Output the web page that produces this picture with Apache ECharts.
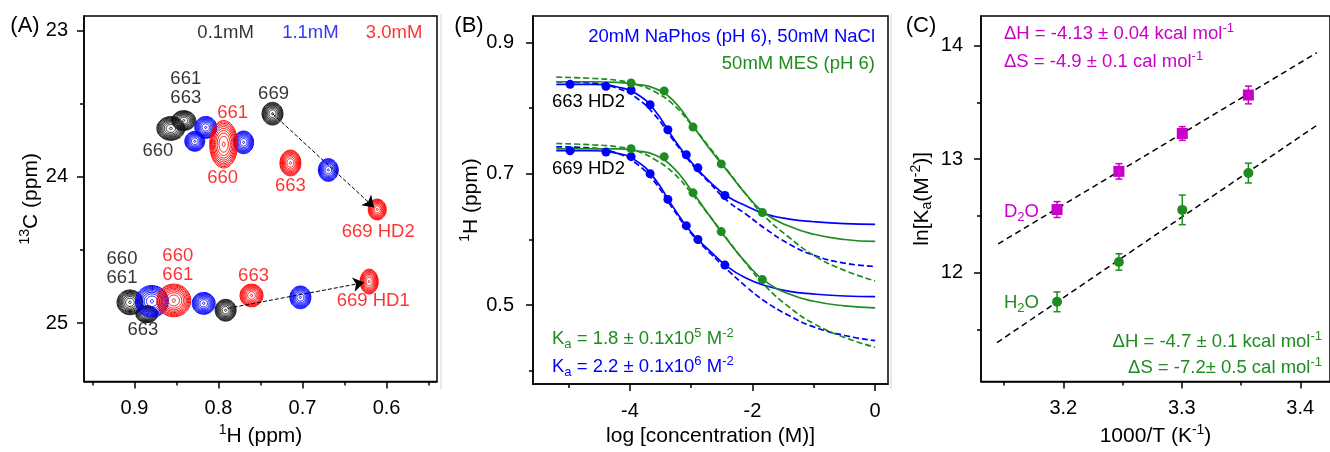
<!DOCTYPE html>
<html>
<head>
<meta charset="utf-8">
<script src="https://cdn.jsdelivr.net/npm/echarts@6/dist/echarts.min.js"></script>
<style>
html,body{margin:0;padding:0;background:#fff;}
#chart{width:1330px;height:452px;}
</style>
</head>
<body>
<div id="chart"></div>
<script>
// ---------------- Panel A: 1H-13C HSQC peaks [1H ppm, 13C ppm, 1H width ppm, 13C width ppm]
const peaks01mM = [
  [0.8567, 23.669, 0.0332, 0.162],
  [0.8413, 23.615, 0.0285, 0.135],
  [0.7357, 23.568, 0.0249, 0.155],
  [0.9053, 24.858, 0.0308, 0.169],
  [0.8852, 24.939, 0.0261, 0.115],
  [0.7915, 24.912, 0.0249, 0.149]
];
const peaks11mM = [
  [0.8152, 23.662, 0.0261, 0.149],
  [0.8282, 23.757, 0.0237, 0.135],
  [0.7701, 23.764, 0.0237, 0.155],
  [0.6693, 23.953, 0.0237, 0.155],
  [0.8792, 24.851, 0.0391, 0.216],
  [0.8176, 24.865, 0.0273, 0.149],
  [0.7025, 24.824, 0.0249, 0.155]
];
const peaks30mM = [
  [0.7938, 23.777, 0.0332, 0.324],
  [0.7144, 23.905, 0.0249, 0.176],
  [0.6111, 24.223, 0.0214, 0.142],
  [0.8532, 24.845, 0.0403, 0.223],
  [0.7607, 24.811, 0.0273, 0.155],
  [0.6207, 24.716, 0.0214, 0.169]
];
// peak labels [1H, 13C, text]
const labels01mM = [
  [0.8389, 23.331, '661'], [0.8389, 23.459, '663'], [0.8721, 23.824, '660'], [0.7345, 23.432, '669'],
  [0.9148, 24.561, '660'], [0.9148, 24.689, '661'], [0.8899, 25.047, '663']
];
const labels30mM = [
  [0.7832, 23.561, '661'], [0.7950, 24.007, '660'], [0.7144, 24.061, '663'], [0.6100, 24.378, '669 HD2'],
  [0.8484, 24.541, '660'], [0.8484, 24.669, '661'], [0.7583, 24.676, '663'], [0.6159, 24.851, '669 HD1']
];
const legendA = [[0.7915, 23.0135, '0.1mM'], [0.6906, 23.0135, '1.1mM'], [0.5910, 23.0135, '3.0mM']];
// arrows [[start],[end]]
const arrowHD2 = [[0.7357, 23.568], [0.6147, 24.209]];
const arrowHD1 = [[0.7891, 24.899], [0.6267, 24.723]];

// ---------------- Panel B: titration curves (log concentration)
const curveX = [-5.2, -4.6, -4.2, -3.9, -3.6, -3.3, -3.0, -2.7, -2.4, -2.1, -1.8, -1.4, -1.0, -0.5, 0];
const blue663Fit   = [0.836, 0.836, 0.832, 0.822, 0.797, 0.755, 0.718, 0.688, 0.665, 0.651, 0.639, 0.631, 0.627, 0.624, 0.623];
const blue663Dash  = [0.840, 0.838, 0.830, 0.816, 0.790, 0.752, 0.716, 0.686, 0.658, 0.638, 0.617, 0.593, 0.576, 0.564, 0.559];
const green663Fit  = [0.840, 0.840, 0.839, 0.836, 0.830, 0.812, 0.776, 0.738, 0.703, 0.668, 0.640, 0.620, 0.608, 0.600, 0.597];
const green663Dash = [0.847, 0.845, 0.842, 0.836, 0.825, 0.806, 0.775, 0.740, 0.704, 0.668, 0.635, 0.603, 0.576, 0.553, 0.537];
const blue669Fit   = [0.735, 0.735, 0.731, 0.720, 0.693, 0.650, 0.611, 0.583, 0.558, 0.541, 0.530, 0.521, 0.517, 0.514, 0.513];
const blue669Dash  = [0.741, 0.739, 0.731, 0.716, 0.688, 0.647, 0.609, 0.580, 0.553, 0.528, 0.506, 0.484, 0.467, 0.454, 0.446];
const green669Fit  = [0.738, 0.738, 0.738, 0.735, 0.729, 0.710, 0.675, 0.636, 0.598, 0.564, 0.537, 0.517, 0.506, 0.499, 0.496];
const green669Dash = [0.746, 0.744, 0.741, 0.735, 0.722, 0.702, 0.671, 0.636, 0.599, 0.563, 0.530, 0.497, 0.472, 0.451, 0.436];
const bluePtsX  = [-4.975, -4.39, -3.98, -3.67, -3.38, -3.08, -2.89, -2.45];
const blue663Pts = [0.836, 0.833, 0.827, 0.805, 0.767, 0.729, 0.709, 0.667];
const blue669Pts = [0.735, 0.733, 0.726, 0.700, 0.661, 0.621, 0.600, 0.561];
const greenPtsX  = [-3.98, -3.44, -2.97, -2.51, -1.84];
const green663Pts = [0.838, 0.826, 0.771, 0.715, 0.641];
const green669Pts = [0.738, 0.726, 0.671, 0.612, 0.539];

// ---------------- Panel C: van 't Hoff
const invT = [3.1947, 3.2469, 3.3004, 3.3562];
const lnKaD2O = [12.557, 12.893, 13.226, 13.565];
const errD2O  = [0.070, 0.068, 0.060, 0.078];
const lnKaH2O = [11.745, 12.096, 12.554, 12.878];
const errH2O  = [0.087, 0.072, 0.130, 0.087];
const fitD2O = [[3.145, 12.255], [3.414, 13.937]];
const fitH2O = [[3.144, 11.385], [3.414, 13.298]];

// ---------------- tick values
const ticksA_x = [0.9, 0.8, 0.7, 0.6], minorA_x = [0.95, 0.85, 0.75, 0.65, 0.55];
const ticksA_y = [23, 24, 25], minorA_y = [23.5, 24.5];
const ticksB_x = [-4, -2, 0], minorB_x = [-5, -3, -1];
const ticksB_y = [0.9, 0.7, 0.5], minorB_y = [0.8, 0.6, 0.4];
const ticksC_x = [3.2, 3.3, 3.4], minorC_x = [3.15, 3.25, 3.35];
const ticksC_y = [14, 13, 12], minorC_y = [13.5, 12.5, 11.5];

const FONT = 'Liberation Sans, Arial, Helvetica, sans-serif';
const BLUE = '#0000ff', RED = '#ff0000', GREEN = '#1e8c1e', MAG = '#c800c8', BLACK = '#000';
const ANN = 18.5;

const richSS = {
  sup: {fontSize: 14, fontFamily: FONT, color: '#000', padding: [0, 0, 12, 0]},
  sub: {fontSize: 14, fontFamily: FONT, color: '#000', padding: [10, 0, 0, 0]}
};
function richFor(color) {
  return {
    sup: {fontSize: 13, fontFamily: FONT, color: color, padding: [0, 0, 11, 0]},
    sub: {fontSize: 13, fontFamily: FONT, color: color, padding: [10, 0, 0, 0]}
  };
}

function mainAxis(grid, pos, min, max, inverse, ticks, fmt, name, nameGap, margin) {
  return {
    type: 'value', gridIndex: grid, position: pos, min: min, max: max, inverse: inverse,
    axisLine: {show: true, onZero: false, lineStyle: {color: '#000', width: 1.5}},
    axisTick: {show: true, inside: false, length: 7, customValues: ticks, lineStyle: {color: '#000', width: 1.5}},
    axisLabel: {show: true, customValues: ticks, formatter: fmt, fontSize: 20, fontFamily: FONT, color: '#000', margin: margin},
    splitLine: {show: false},
    name: name, nameLocation: 'middle', nameGap: nameGap,
    nameTextStyle: {fontSize: 21, fontFamily: FONT, color: '#000', rich: richSS}
  };
}
function minorAxis(grid, pos, min, max, inverse, ticks) {
  return {
    type: 'value', gridIndex: grid, position: pos, min: min, max: max, inverse: inverse,
    axisLine: {show: false, onZero: false},
    axisTick: {show: true, inside: false, length: 4, customValues: ticks, lineStyle: {color: '#000', width: 1.5}},
    axisLabel: {show: false},
    splitLine: {show: false}
  };
}
const f1 = v => Number(v).toFixed(1);
const f0 = v => String(Math.round(v));

const xAxis = [
  mainAxis(0, 'bottom', 0.54, 0.96, true, ticksA_x, f1, '{sup|1}H (ppm)', 39, 17),
  minorAxis(0, 'bottom', 0.54, 0.96, true, minorA_x),
  mainAxis(1, 'bottom', -5.58, 0.21, false, ticksB_x, f0, 'log [concentration (M)]', 41, 17),
  minorAxis(1, 'bottom', -5.58, 0.21, false, minorB_x),
  mainAxis(2, 'bottom', 3.1305, 3.4251, false, ticksC_x, f1, '1000/T (K{sup|-1})', 39, 17),
  minorAxis(2, 'bottom', 3.1305, 3.4251, false, minorC_x)
];
const yAxis = [
  mainAxis(0, 'left', 22.9, 25.4, true, ticksA_y, f0, '{sup|13}C (ppm)', 38, 16),
  minorAxis(0, 'left', 22.9, 25.4, true, minorA_y),
  mainAxis(1, 'left', 0.38, 0.94, false, ticksB_y, f1, '{sup|1}H (ppm)', 49, 19),
  minorAxis(1, 'left', 0.38, 0.94, false, minorB_y),
  mainAxis(2, 'left', 11.043, 14.26, false, ticksC_y, f0, 'ln[K{sub|a}(M{sup|-2})]', 46, 18),
  minorAxis(2, 'left', 11.043, 14.26, false, minorC_y)
];

function contourSeries(data, color, z) {
  return {
    type: 'custom', xAxisIndex: 0, yAxisIndex: 0, z: z, silent: true,
    data: data,
    renderItem: function (params, api) {
      const c = api.coord([api.value(0), api.value(1)]);
      const s = api.size([api.value(2), api.value(3)]);
      const w = Math.abs(s[0]) / 2, h = Math.abs(s[1]) / 2;
      const n = 9;
      const children = [];
      const levels = [0.1];
      for (let k = 1; k <= n; k++) levels.push(Math.pow(k / n, 0.5));
      levels.forEach(function (f) {
        const points = [];
        for (let j = 0; j < 60; j++) {
          const a = 2 * Math.PI * j / 60;
          points.push([c[0] + w * f * Math.cos(a), c[1] + h * f * Math.sin(a)]);
        }
        children.push({type: 'polygon', shape: {points: points},
          style: {fill: 'none', stroke: color, lineWidth: 1}});
      });
      return {type: 'group', children: children};
    }
  };
}
function textSeries(data, color, xi, yi) {
  return {
    type: 'scatter', xAxisIndex: xi, yAxisIndex: yi, symbolSize: 2, z: 10, silent: true,
    itemStyle: {color: 'rgba(0,0,0,0)'},
    data: data.map(d => ({value: [d[0], d[1]], name: d[2]})),
    label: {show: true, position: 'inside', formatter: '{b}', fontSize: ANN, fontFamily: FONT, color: color}
  };
}
function arrowSeries(coords) {
  return {
    type: 'lines', coordinateSystem: 'cartesian2d', xAxisIndex: 0, yAxisIndex: 0, z: 8, silent: true,
    symbol: ['none', 'arrow'], symbolSize: 11,
    lineStyle: {color: '#000', width: 1, type: [4, 2], opacity: 1},
    data: [{coords: coords}]
  };
}
function curve(ys, color, dashed) {
  return {
    type: 'line', xAxisIndex: 2, yAxisIndex: 2, showSymbol: false, smooth: 0.5, silent: true,
    data: curveX.map((x, i) => [x, ys[i]]),
    lineStyle: {color: color, width: 1.7, type: dashed ? [6, 3] : 'solid'}, z: 3
  };
}
function pts(xs, ys, color, xi, yi, symbol, size) {
  return {
    type: 'scatter', xAxisIndex: xi, yAxisIndex: yi, symbol: symbol, symbolSize: size, z: 6, silent: true,
    itemStyle: {color: color, opacity: 1},
    data: xs.map((x, i) => [x, ys[i]])
  };
}
function errSeries(xs, ys, es, color) {
  return {
    type: 'custom', xAxisIndex: 4, yAxisIndex: 4, z: 5, silent: true,
    data: xs.map((x, i) => [x, ys[i], es[i]]),
    renderItem: function (params, api) {
      const x = api.value(0), y = api.value(1), e = api.value(2);
      const t = api.coord([x, y + e]), b = api.coord([x, y - e]);
      const st = {stroke: color, lineWidth: 1.5};
      return {type: 'group', children: [
        {type: 'line', shape: {x1: t[0], y1: t[1], x2: b[0], y2: b[1]}, style: st},
        {type: 'line', shape: {x1: t[0] - 3.5, y1: t[1], x2: t[0] + 3.5, y2: t[1]}, style: st},
        {type: 'line', shape: {x1: b[0] - 3.5, y1: b[1], x2: b[0] + 3.5, y2: b[1]}, style: st}
      ]};
    }
  };
}
function fitLine(coords) {
  return {
    type: 'line', xAxisIndex: 4, yAxisIndex: 4, showSymbol: false, silent: true, z: 3,
    data: coords, lineStyle: {color: '#000', width: 1.5, type: [6, 4]}
  };
}

function gtext(x, y, text, color, align, size) {
  return {type: 'text', x: x, y: y, silent: true, z: 100,
    style: {text: text, fill: color, fontSize: size, fontFamily: FONT,
      textAlign: align || 'left', textVerticalAlign: 'middle', rich: richFor(color)}};
}

const option = {
  backgroundColor: '#fff',
  animation: false,
  grid: [
    {left: 84, top: 16, width: 353, height: 370, show: true, borderColor: '#000', borderWidth: 1.5, backgroundColor: 'transparent', containLabel: false},
    {left: 533, top: 16, width: 355, height: 370, show: true, borderColor: '#000', borderWidth: 1.5, backgroundColor: 'transparent', containLabel: false},
    {left: 981, top: 16, width: 352, height: 370, show: true, borderColor: '#000', borderWidth: 1.5, backgroundColor: 'transparent', containLabel: false}
  ],
  xAxis: xAxis,
  yAxis: yAxis,
  series: [
    contourSeries(peaks01mM, '#111111', 2),
    contourSeries(peaks11mM, BLUE, 3),
    contourSeries(peaks30mM, RED, 4),
    arrowSeries(arrowHD2),
    arrowSeries(arrowHD1),
    textSeries(labels01mM, BLACK, 0, 0),
    textSeries(labels30mM, RED, 0, 0),
    textSeries([legendA[0]], BLACK, 0, 0),
    textSeries([legendA[1]], BLUE, 0, 0),
    textSeries([legendA[2]], RED, 0, 0),

    curve(blue663Fit, BLUE, false),
    curve(blue663Dash, BLUE, true),
    curve(green663Fit, GREEN, false),
    curve(green663Dash, GREEN, true),
    curve(blue669Fit, BLUE, false),
    curve(blue669Dash, BLUE, true),
    curve(green669Fit, GREEN, false),
    curve(green669Dash, GREEN, true),
    pts(bluePtsX, blue663Pts, BLUE, 2, 2, 'circle', 9),
    pts(bluePtsX, blue669Pts, BLUE, 2, 2, 'circle', 9),
    pts(greenPtsX, green663Pts, GREEN, 2, 2, 'circle', 9),
    pts(greenPtsX, green669Pts, GREEN, 2, 2, 'circle', 9),

    fitLine(fitD2O),
    fitLine(fitH2O),
    errSeries(invT, lnKaD2O, errD2O, MAG),
    errSeries(invT, lnKaH2O, errH2O, GREEN),
    pts(invT, lnKaD2O, MAG, 4, 4, 'rect', 11),
    pts(invT, lnKaH2O, GREEN, 4, 4, 'circle', 10)
  ],
  graphic: [
    {type: 'line', silent: true, shape: {x1: 441, y1: 14, x2: 441, y2: 389}, style: {stroke: '#d0d0d0', lineWidth: 1}},
    {type: 'line', silent: true, shape: {x1: 891, y1: 14, x2: 891, y2: 389}, style: {stroke: '#d0d0d0', lineWidth: 1}},
    gtext(25, 26, '(A)', BLACK, 'center', 22),
    gtext(469, 26, '(B)', BLACK, 'center', 22),
    gtext(921, 26, '(C)', BLACK, 'center', 22),
    gtext(875, 37, '20mM NaPhos (pH 6), 50mM NaCl', BLUE, 'right', ANN),
    gtext(875, 64, '50mM MES (pH 6)', GREEN, 'right', ANN),
    gtext(552, 102, '663 HD2', BLACK, 'left', ANN),
    gtext(552, 169, '669 HD2', BLACK, 'left', ANN),
    gtext(552, 339, 'K{sub|a} = 1.8 ± 0.1x10{sup|5} M{sup|-2}', GREEN, 'left', ANN),
    gtext(552, 367, 'K{sub|a} = 2.2 ± 0.1x10{sup|6} M{sup|-2}', BLUE, 'left', ANN),
    gtext(1004, 34, 'ΔH = -4.13 ± 0.04 kcal mol{sup|-1}', MAG, 'left', ANN),
    gtext(1004, 62, 'ΔS = -4.9 ± 0.1 cal mol{sup|-1}', MAG, 'left', ANN),
    gtext(1004, 212, 'D{sub|2}O', MAG, 'left', ANN),
    gtext(1004, 303, 'H{sub|2}O', GREEN, 'left', ANN),
    gtext(1322, 342, 'ΔH = -4.7 ± 0.1 kcal mol{sup|-1}', GREEN, 'right', ANN),
    gtext(1322, 368, 'ΔS = -7.2± 0.5 cal mol{sup|-1}', GREEN, 'right', ANN)
  ]
};

const chart = echarts.init(document.getElementById('chart'), null, {renderer: 'canvas', width: 1330, height: 452});
chart.setOption(option);
</script>
</body>
</html>
